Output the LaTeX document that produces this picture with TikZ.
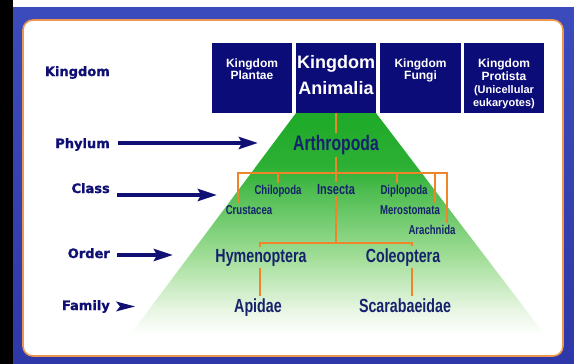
\documentclass[tikz,border=0pt]{standalone}
\usepackage{fontspec}
\setmainfont{Liberation Sans}
\newfontfamily\labfont[BoldFeatures={FakeBold=1.2}]{DejaVu Sans}
\newfontfamily\narrowfont[FakeStretch=0.75]{Liberation Sans}
\usetikzlibrary{arrows.meta}
\definecolor{bgblue}{RGB}{46,56,168}
\definecolor{bgblue2}{RGB}{60,76,188}
\definecolor{kbox}{RGB}{12,12,120}
\definecolor{labnavy}{RGB}{16,16,116}
\definecolor{treenavy}{RGB}{22,34,108}
\definecolor{treeorange}{RGB}{240,132,40}
\definecolor{panelorange}{RGB}{238,150,80}
\definecolor{gA}{RGB}{30,170,40}
\definecolor{gB}{RGB}{45,176,52}
\definecolor{gC}{RGB}{92,194,92}
\definecolor{gD}{RGB}{165,223,155}
\definecolor{gE}{RGB}{230,245,225}
\pgfdeclareverticalshading{greenfade}{100bp}{color(0bp)=(white); color(25bp)=(white); color(31bp)=(gE); color(42bp)=(gD); color(55bp)=(gC); color(63bp)=(gB); color(75bp)=(gA); color(100bp)=(gA)}
\tikzset{
  kingbox/.style={fill=kbox, draw=none, minimum width=80pt, minimum height=70pt, inner sep=0pt},
  ktext/.style={text=white, align=center, inner sep=0pt, anchor=north, font=\bfseries\fontsize{12}{12.5}\selectfont},
  ranklab/.style={text=labnavy, anchor=base east, inner sep=0pt, font=\labfont\bfseries\fontsize{13}{15}\selectfont},
  tname/.style={text=treenavy, anchor=base, inner sep=2pt},
  bigname/.style={tname, font=\narrowfont\bfseries\fontsize{19}{21}\selectfont},
  smallname/.style={tname, font=\narrowfont\bfseries\fontsize{12.8}{14}\selectfont},
  treeline/.style={draw=treeorange, line width=2.5pt},
  rankarrow/.style={draw=labnavy, line width=4pt, -{Stealth[length=19pt,width=12pt,inset=3pt]}}
}
\begin{document}
\begin{tikzpicture}[x=1pt,y=-1pt]
\useasboundingbox (0,0) rectangle (574,364);
% background
\shade[top color=bgblue2, bottom color=bgblue] (0,0) rectangle (574,364);
\fill[white] (0,0) rectangle (574,7);
\fill[black] (0,0) rectangle (13,364);
\filldraw[fill=white, draw=panelorange, line width=1.6pt, rounded corners=10pt] (23,20) rectangle (563,356);
% green pyramid
\shade[shading=greenfade] (296,113) -- (376,113) -- (545,335) -- (130,335) -- cycle;
% kingdom boxes
\node[kingbox] (plantae) at (252,78) {};
\node[kingbox] (animalia) at (336,78) {};
\node[kingbox, minimum width=81pt] (fungi) at (420.5,78) {};
\node[kingbox] (protista) at (504,78) {};
\node[ktext] (tplantae) at ([yshift=-15.5pt]plantae.north) {Kingdom\\Plantae};
\node[ktext, font=\bfseries\fontsize{18}{26}\selectfont] (tanimalia) at ([yshift=-12pt]animalia.north) {Kingdom\\Animalia};
\node[ktext] (tfungi) at ([yshift=-15.5pt]fungi.north) {Kingdom\\Fungi};
\node[ktext, font=\bfseries\fontsize{12}{13}\selectfont] (tprotista) at ([yshift=-15.5pt]protista.north) {Kingdom\\Protista\\{\fontsize{11}{13}\selectfont(Unicellular}\\{\fontsize{11}{13}\selectfont eukaryotes)}};
% rank labels
\node[ranklab] (kingdom) at (110,76) {Kingdom};
\node[ranklab] (phylum) at (110,148) {Phylum};
\node[ranklab] (class) at (110,193) {Class};
\node[ranklab] (order) at (110,258) {Order};
\node[ranklab] (family) at (110,310) {Family};
\coordinate (phylumtip) at (258,143);
\coordinate (classtip) at (217,195);
\coordinate (ordertip) at (173,255);
\draw[rankarrow] ([xshift=8pt]phylum.east |- phylumtip) -- (phylumtip);
\draw[rankarrow] ([xshift=7pt]class.east |- classtip) -- (classtip);
\draw[rankarrow] ([xshift=7pt]order.east |- ordertip) -- (ordertip);
\fill[labnavy] ([xshift=6pt]family.east) ++(0,-5) -- ++(19,5) -- ++(-19,5) -- ++(4,-5) -- cycle;
% taxon names
\node[tname, font=\narrowfont\bfseries\fontsize{21}{23}\selectfont] (arth) at (336,150) {Arthropoda};
\node[smallname] (chil) at (278,194) {Chilopoda};
\node[tname, font=\narrowfont\bfseries\fontsize{14.7}{16}\selectfont] (ins) at (336,194) {Insecta};
\node[smallname] (dipl) at (404,194) {Diplopoda};
\node[smallname] (crus) at (249,214) {Crustacea};
\node[smallname] (mero) at (410,214) {Merostomata};
\node[smallname] (arach) at (432,234) {Arachnida};
\node[bigname] (hym) at (261,262) {Hymenoptera};
\node[bigname] (cole) at (403,262) {Coleoptera};
\node[bigname] (api) at (258,312) {Apidae};
\node[bigname] (scar) at (405,312) {Scarabaeidae};
% tree lines
\coordinate (hl) at (238,173);
\coordinate (hr) at (447,173);
\coordinate (hd) at (397,173);
\coordinate (hm) at (435,173);
\coordinate (j2) at (336,243);
\coordinate (ol) at (260,243);
\coordinate (or) at (412,243);
\draw[treeline] (animalia.south) -- (arth.north);
\draw[treeline] (arth.south) -- (ins.north);
\draw[treeline] (hl |- crus.north) -- (hl) -- (hr) -- (hr |- arach.north);
\draw[treeline] (chil.north) -- (chil.north |- hl);
\draw[treeline] (hd) -- (hd |- dipl.north);
\draw[treeline] (hm) -- (hm |- mero.north);
\draw[treeline] (ins.south) -- (j2);
\draw[treeline] (ol |- hym.north) -- (ol) -- (or) -- (or |- cole.north);
\draw[treeline] (hym.south -| ol) -- (api.north -| ol);
\draw[treeline] (cole.south -| or) -- (scar.north -| or);
\end{tikzpicture}
\end{document}
